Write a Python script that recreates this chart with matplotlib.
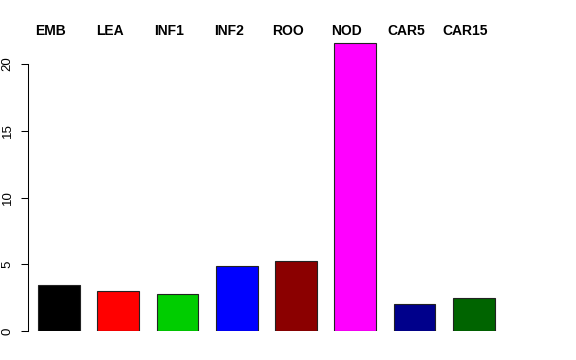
import numpy as np
import matplotlib
matplotlib.use("Agg")
import matplotlib.pyplot as plt
import matplotlib.transforms as mtransforms

categories = ["EMB", "LEA", "INF1", "INF2", "ROO", "NOD", "CAR5", "CAR15"]
values = [3.45, 2.97, 2.79, 4.85, 5.27, 21.57, 2.05, 2.49]
colors = ["#000000", "#FF0000", "#00CD00", "#0000FF",
          "#8B0000", "#FF00FF", "#00008B", "#006400"]
yticks = [0, 5, 10, 15, 20]

plt.rcParams["font.family"] = ["Liberation Sans", "DejaVu Sans"]

W, H = 576, 360
fig = plt.figure(figsize=(W / 100, H / 100), dpi=100)

# axes placed in pixel terms to mimic R's plot region
left_px, right_px = 28.3, 548
bottom_px = 331
unit_px = 13.35
ymax = 22
ax = fig.add_axes([left_px / W, (H - bottom_px) / H,
                   (right_px - left_px) / W, ymax * unit_px / H])

x = np.arange(len(categories))
ax.bar(x, values, width=0.705, color=colors, edgecolor="#222222", linewidth=0.8)

pitch = 59.22
x0 = 59.15
ax.set_xlim((left_px - x0) / pitch, (right_px - x0) / pitch)
ax.set_ylim(0, ymax)

for s in ["top", "right", "bottom"]:
    ax.spines[s].set_visible(False)
ax.spines["left"].set_bounds(0, 20)
ax.spines["left"].set_linewidth(0.75)
ax.set_xticks([])
ax.set_yticks(yticks)
ax.set_yticklabels([str(t) for t in yticks], rotation=90, va="center", fontsize=9.5)
ax.tick_params(axis="y", direction="out", length=5, width=0.75, pad=5.5)

# category labels above the plot
trans = mtransforms.blended_transform_factory(ax.transData, fig.transFigure)
for i, name in enumerate(categories):
    ax.text(x[i] - 0.14, 1 - 35 / H, name, transform=trans, ha="center",
            va="baseline", fontsize=10, fontweight="bold", clip_on=False)

fig.savefig("out.png", dpi=100)
